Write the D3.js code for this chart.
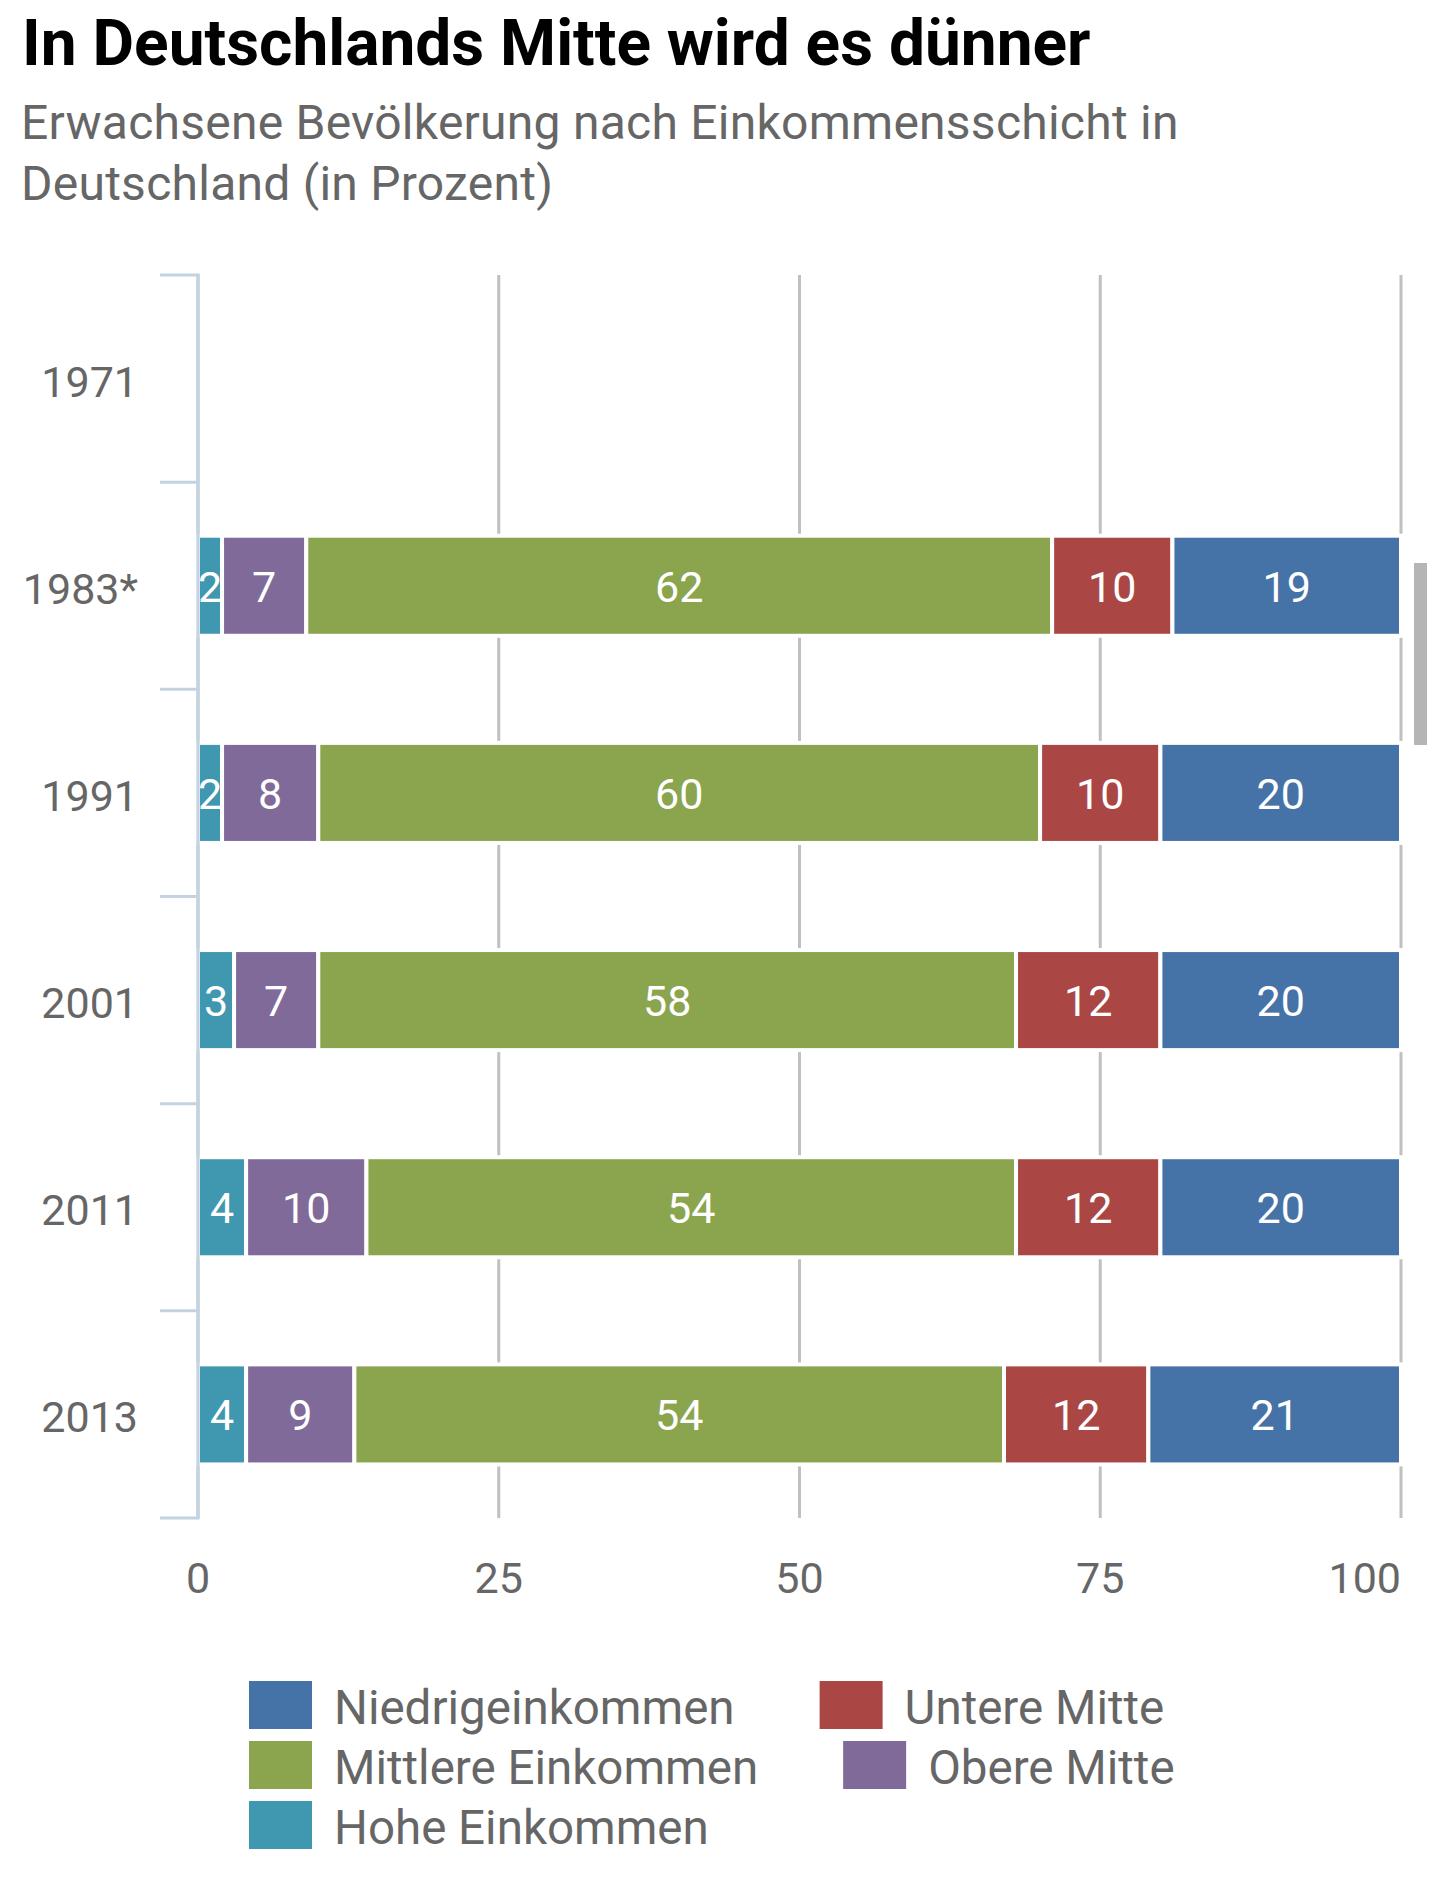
<!DOCTYPE html>
<html>
<head>
<meta charset="utf-8">
<script src="https://cdn.jsdelivr.net/npm/d3@7"></script>
<style>
  html, body { margin: 0; padding: 0; background: #fff; }
  svg { display: block; font-family: Roboto, "Noto Sans", sans-serif; }
</style>
</head>
<body>
<svg id="chart" width="1438" height="1885"></svg>
<script>
// ---- data ----
const categories = ["1971", "1983*", "1991", "2001", "2011", "2013"];
// stacked left to right
const hoheEinkommen     = [null, 2, 2, 3, 4, 4];
const obereMitte        = [null, 7, 8, 7, 10, 9];
const mittlereEinkommen = [null, 62, 60, 58, 54, 54];
const untereMitte       = [null, 10, 10, 12, 12, 12];
const niedrigeinkommen  = [null, 19, 20, 20, 20, 21];
const xTicks = [0, 25, 50, 75, 100];

const seriesNames = ["Hohe Einkommen", "Obere Mitte", "Mittlere Einkommen", "Untere Mitte", "Niedrigeinkommen"];
const seriesValues = [hoheEinkommen, obereMitte, mittlereEinkommen, untereMitte, niedrigeinkommen];
const seriesColors = ["#3f97b0", "#806a9a", "#8aa54e", "#aa4745", "#4673a7"];
const legendOrder = ["Niedrigeinkommen", "Untere Mitte", "Mittlere Einkommen", "Obere Mitte", "Hohe Einkommen"];

const svg = d3.select("#chart");

// ---- title ----
svg.append("text").attr("x", 22).attr("y", 65)
  .attr("font-size", 64).attr("font-weight", 700).attr("fill", "#000")
  .text("In Deutschlands Mitte wird es dünner");
svg.append("text").attr("x", 21).attr("y", 139)
  .attr("font-size", 48).attr("letter-spacing", 0.25).attr("fill", "#666")
  .text("Erwachsene Bevölkerung nach Einkommensschicht in");
svg.append("text").attr("x", 21).attr("y", 200)
  .attr("font-size", 48).attr("letter-spacing", 0.25).attr("fill", "#666")
  .text("Deutschland (in Prozent)");

// ---- scales ----
const x = d3.scaleLinear().domain([0, 100]).range([198, 1401]);
const yTop = 275, yBottom = 1518;
const yOuter = d3.scaleBand().domain(categories).range([yTop, yBottom]).padding(0);
const y = d3.scaleBand().domain(categories).range([yTop, yBottom]).paddingInner(0.517).paddingOuter(0.2585);

// ---- gridlines ----
svg.append("g").selectAll("line").data(xTicks).join("line")
  .attr("x1", d => x(d)).attr("x2", d => x(d))
  .attr("y1", yTop).attr("y2", yBottom)
  .attr("stroke", "#c0c0c0").attr("stroke-width", 3);

// ---- stacked bars ----
const rows = categories.map((c, i) => {
  const o = { cat: c };
  seriesNames.forEach((s, j) => o[s] = seriesValues[j][i] == null ? 0 : seriesValues[j][i]);
  return o;
});
const stack = d3.stack().keys(seriesNames)(rows);

const gBars = svg.append("g");
stack.forEach((layer, j) => {
  const g = gBars.append("g");
  layer.forEach((seg, i) => {
    const v = seriesValues[j][i];
    if (v == null) return;
    g.append("rect")
      .attr("x", x(seg[0])).attr("width", x(seg[1]) - x(seg[0]))
      .attr("y", y(categories[i])).attr("height", y.bandwidth())
      .attr("fill", seriesColors[j])
      .attr("stroke", "#fff").attr("stroke-width", 4);
  });
});
stack.forEach((layer, j) => {
  layer.forEach((seg, i) => {
    const v = seriesValues[j][i];
    if (v == null) return;
    gBars.append("text")
      .attr("x", (x(seg[0]) + x(seg[1])) / 2)
      .attr("y", y(categories[i]) + y.bandwidth() / 2)
      .attr("dy", "0.37em")
      .attr("text-anchor", "middle")
      .attr("font-size", 43).attr("fill", "#fff")
      .text(v);
  });
});

// ---- y axis ----
const axisColor = "#c3d3e2";
const gy = svg.append("g");
gy.append("line").attr("x1", x(0)).attr("x2", x(0)).attr("y1", yTop - 1.5).attr("y2", yBottom + 1.5)
  .attr("stroke", axisColor).attr("stroke-width", 3.3);
const tickPos = categories.map(c => yOuter(c)).concat([yBottom]);
gy.selectAll("line.tick").data(tickPos).join("line").attr("class", "tick")
  .attr("x1", 160).attr("x2", x(0)).attr("y1", d => d).attr("y2", d => d)
  .attr("stroke", axisColor).attr("stroke-width", 3);
gy.selectAll("text").data(categories).join("text")
  .attr("x", 138).attr("y", d => yOuter(d) + yOuter.bandwidth() / 2)
  .attr("dy", "0.42em").attr("text-anchor", "end")
  .attr("font-size", 43).attr("fill", "#666")
  .text(d => d);

// ---- x axis labels ----
svg.append("g").selectAll("text").data(xTicks).join("text")
  .attr("x", d => x(d))
  .attr("y", 1593)
  .attr("text-anchor", (d, i) => i === xTicks.length - 1 ? "end" : "middle")
  .attr("font-size", 43).attr("fill", "#666")
  .text(d => d);

// ---- scrollbar-like element ----
svg.append("rect").attr("x", 1414).attr("y", 563).attr("width", 13).attr("height", 182)
  .attr("fill", "#b5b5b5");

// ---- legend ----
const legend = svg.append("g");
const rowsLegend = [[legendOrder[0], legendOrder[1]], [legendOrder[2], legendOrder[3]], [legendOrder[4]]];
rowsLegend.forEach((row, r) => {
  let cx = 249;
  const top = 1681 + r * 60;
  row.forEach(name => {
    const j = seriesNames.indexOf(name);
    legend.append("rect").attr("x", cx).attr("y", top).attr("width", 63).attr("height", 48)
      .attr("fill", seriesColors[j]);
    const t = legend.append("text").attr("x", cx + 85).attr("y", top + 43)
      .attr("font-size", 47.5).attr("fill", "#666").text(name);
    cx = cx + 85 + t.node().getComputedTextLength() + 85;
  });
});
</script>
</body>
</html>
